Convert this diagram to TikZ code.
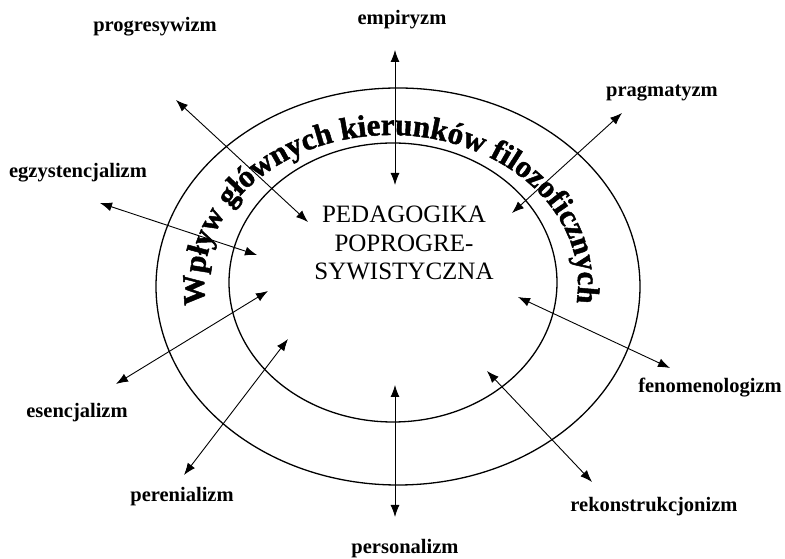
\documentclass[tikz,border=0pt]{standalone}
\usepackage{fontspec}
\setmainfont{Liberation Serif}
\newfontfamily\artfont{Liberation Serif}[FakeBold=1.5]
\usepackage{tikz}
\usetikzlibrary{arrows.meta, decorations.text}
\newcommand{\wordart}{\artfont\bfseries\fontsize{31}{31}\selectfont}

\begin{document}
\begin{tikzpicture}[x=1pt, y=1pt,
    ring/.style={line width=1.3pt},
    link/.style={>={Latex[length=12pt,width=9pt]}, <->, line width=0.9pt},
    school/.style={font=\bfseries\fontsize{20.5}{22}\selectfont, anchor=base, inner sep=0pt},
    core/.style={font=\fontsize{25}{28.5}\selectfont, align=center, inner sep=0pt},
  ]
  \useasboundingbox (0,0) rectangle (785,559);

  % --- rings ---
  \draw[ring] (398,272.5) ellipse [x radius=242, y radius=198.5];
  \draw[ring] (393,276.5) ellipse [x radius=164, y radius=139.5];

  % --- text along the ring ---
  \path[decorate, decoration={text along path, text align=fit to path,
        text={|\wordart|Wpływ głównych kierunków filozoficznych}}]
    (391,275) ++(188:187 and 149) arc [start angle=188, end angle=-5, x radius=187, y radius=149];

  \node[core] (ped) at (404,316) {PEDAGOGIKA\\POPROGRE-\\SYWISTYCZNA};

  % --- schools ---
  \node[school] (emp) at (402,534) {empiryzm};
  \node[school] (prg) at (155,527) {progresywizm};
  \node[school] (pra) at (662,462) {pragmatyzm};
  \node[school] (egz) at (78,381)  {egzystencjalizm};
  \node[school] (ese) at (77,141)  {esencjalizm};
  \node[school] (per) at (182,57)  {perenializm};
  \node[school] (pes) at (405,5)   {personalizm};
  \node[school] (fen) at (710,166) {fenomenologizm};
  \node[school] (rek) at (654,47)  {rekonstrukcjonizm};

  % --- arrow ends ---
  \coordinate (emp-o) at (395,509); \coordinate (emp-i) at (395,374);
  \coordinate (prg-o) at (176,459); \coordinate (prg-i) at (308,337);
  \coordinate (pra-o) at (622,446); \coordinate (pra-i) at (512,346);
  \coordinate (egz-o) at (100,356); \coordinate (egz-i) at (257,304);
  \coordinate (ese-o) at (116,175); \coordinate (ese-i) at (268,268);
  \coordinate (per-o) at (184,84);  \coordinate (per-i) at (288,220);
  \coordinate (pes-o) at (395,42);  \coordinate (pes-i) at (395,174);
  \coordinate (fen-o) at (670,191); \coordinate (fen-i) at (518,262);
  \coordinate (rek-o) at (592,77);  \coordinate (rek-i) at (487,188);

  \foreach \s in {emp, prg, pra, egz, ese, per, pes, fen, rek}
    \draw[link] (\s-i) -- (\s-o);

\end{tikzpicture}
\end{document}
